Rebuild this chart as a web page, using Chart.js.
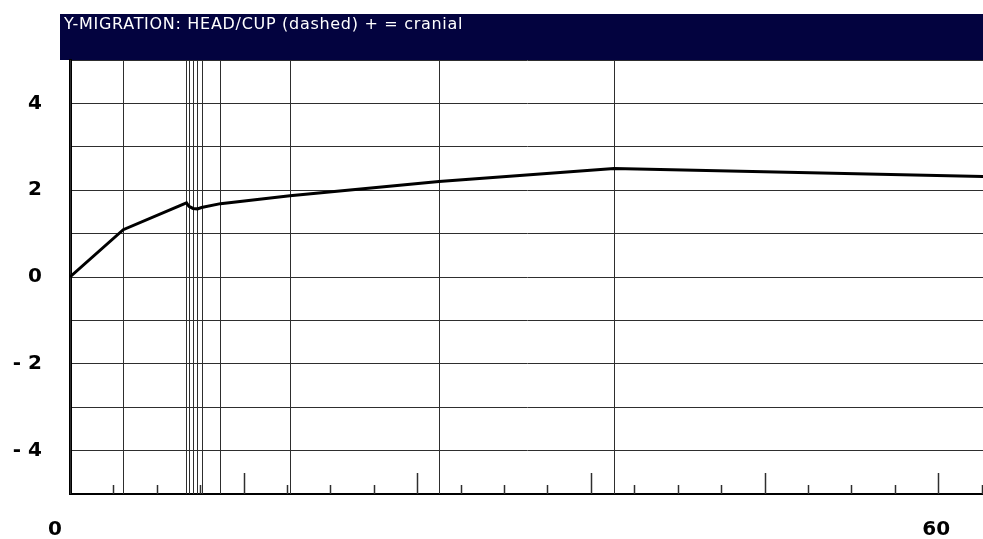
<!DOCTYPE html>
<html>
<head>
<meta charset="utf-8">
<script src="https://cdn.jsdelivr.net/npm/chart.js@4.4.0/dist/chart.umd.min.js"></script>
<style>
  html, body { margin: 0; padding: 0; background: #ffffff; overflow: hidden; }
  #wrap { width: 983px; height: 539px; }
</style>
</head>
<body>
<div id="wrap"><canvas id="c" width="983" height="539"></canvas></div>
<script>
// Head/cup Y-migration over follow-up time (months), positive = cranial
const titleText = 'Y-MIGRATION: HEAD/CUP (dashed) + = cranial';
const months    = [0, 3.68, 8.05, 8.22, 8.5, 8.81, 9.09, 10.4, 15.2, 25.5, 37.6, 72];
const migration = [0, 1.09, 1.71, 1.63, 1.58, 1.57, 1.60, 1.69, 1.87, 2.20, 2.50, 2.25];
const yLabelValues = [4, 2, 0, -2, -4];
const xLabelValues = [0, 60];
const minorTickStep = 3;
const majorTickStep = 12;

const labelFont = 'bold 20px "DejaVu Sans"';

const framePlugin = {
  id: 'frame',
  beforeDraw(chart) {
    const { ctx, chartArea: a, width } = chart;
    ctx.save();
    ctx.fillStyle = '#ffffff';
    ctx.fillRect(0, 0, chart.width, chart.height);
    // title band
    ctx.fillStyle = '#03033f';
    ctx.fillRect(a.left - 10, a.top - 46, width - (a.left - 10), 46);
    ctx.fillStyle = '#ffffff';
    ctx.font = '16px "DejaVu Sans", sans-serif';
    ctx.letterSpacing = '0.7px';
    ctx.textBaseline = 'alphabetic';
    ctx.textAlign = 'left';
    ctx.fillText(titleText, a.left - 6, a.top - 31);
    ctx.restore();
  },
  beforeDatasetsDraw(chart) {
    const { ctx, chartArea: a, scales: { x } } = chart;
    ctx.save();
    ctx.beginPath();
    ctx.rect(a.left, a.top, a.right - a.left, a.bottom - a.top);
    ctx.clip();
    // a vertical line at every measurement time
    ctx.strokeStyle = '#2e2e2e';
    ctx.lineWidth = 1;
    months.forEach(m => {
      const px = Math.round(x.getPixelForValue(m)) + 0.5;
      ctx.beginPath();
      ctx.moveTo(px, a.top);
      ctx.lineTo(px, a.bottom);
      ctx.stroke();
    });
    // inward tick marks along the time axis
    ctx.lineWidth = 1.5;
    for (let v = minorTickStep; v <= x.max; v += minorTickStep) {
      const px = Math.round(x.getPixelForValue(v)) + 0.5;
      const len = v % majorTickStep === 0 ? 21 : 9;
      ctx.beginPath();
      ctx.moveTo(px, a.bottom);
      ctx.lineTo(px, a.bottom - len);
      ctx.stroke();
    }
    ctx.restore();
  },
  afterDraw(chart) {
    const { ctx, scales: { x }, chartArea: a } = chart;
    ctx.save();
    ctx.fillStyle = '#000000';
    ctx.font = labelFont;
    ctx.textBaseline = 'alphabetic';
    xLabelValues.forEach((v, i) => {
      const px = x.getPixelForValue(v);
      ctx.textAlign = i === 0 ? 'right' : 'center';
      ctx.fillText(String(v), i === 0 ? px - 8 : px - 2, a.bottom + 41);
    });
    ctx.restore();
  }
};

new Chart(document.getElementById('c'), {
  type: 'line',
  data: {
    datasets: [{
      data: months.map((m, i) => ({ x: m, y: migration[i] })),
      borderColor: '#000000',
      borderWidth: 3,
      pointRadius: 0,
      tension: 0,
      fill: false
    }]
  },
  options: {
    responsive: false,
    animation: false,
    devicePixelRatio: 1,
    layout: { padding: { top: 60, left: 0, right: 0, bottom: 0 } },
    plugins: { legend: { display: false }, tooltip: { enabled: false }, title: { display: false } },
    scales: {
      x: {
        type: 'linear',
        min: 0,
        max: 63.1,
        grid: { display: false, drawTicks: false },
        border: { display: true, color: '#000000', width: 2 },
        ticks: { display: false },
        afterFit(s) { s.height = 45; }
      },
      y: {
        min: -5,
        max: 5,
        ticks: {
          stepSize: 1,
          autoSkip: false,
          padding: 28,
          color: '#000000',
          font: { family: 'DejaVu Sans', size: 20, weight: 'bold' },
          callback: v => yLabelValues.includes(v) ? (v < 0 ? '- ' + Math.abs(v) : String(v)) : ''
        },
        grid: { color: '#2e2e2e', lineWidth: 1, drawTicks: false },
        border: { display: true, color: '#000000', width: 3 },
        afterFit(s) { s.width = 70; }
      }
    }
  },
  plugins: [framePlugin]
});
</script>
</body>
</html>
